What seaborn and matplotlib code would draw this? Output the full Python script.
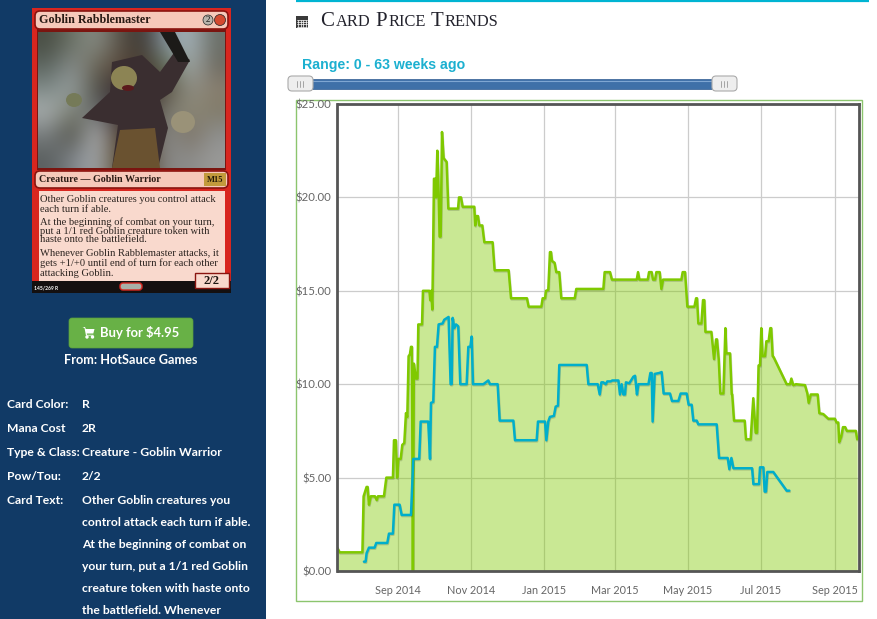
import numpy as np
import pandas as pd
import matplotlib
matplotlib.use("Agg")
import matplotlib.pyplot as plt
import matplotlib.dates as mdates
import matplotlib.patheffects as pe
from matplotlib.patches import Rectangle, FancyBboxPatch, Circle, Ellipse, Polygon
from matplotlib.ticker import FuncFormatter
import seaborn as sns

BASE_DATE = "2014-09-01"
green_days = [-51,-49,-30,-29,-26.5,-25.6,-24.5,-23,-19.5,-18,-17,-12,-10,-4.5,-3.6,-2,-1,0,2,3.3,5,6.4,7.5,8.6,9.7,10.6,11.4,12.2,13,14.7,16,16.7,19.8,20.6,26,26.7,27.5,28.4,29,29.8,31,31.5,32.6,33.4,34.5,35.4,36.5,37.9,40.4,41.8,49.9,50.7,52.4,53.8,63.5,64.3,65.2,66.6,67.7,70.2,71.9,78.8,80.5,92.2,94.2,107.5,108.9,119.5,120.6,122.6,123.4,125.3,126.7,127.6,128.4,130.6,132,134.5,136.2,147.4,148.7,171.3,172.4,176.9,178.5,199.2,200.3,201.4,208.4,209.5,211.7,212.8,214.5,215.6,218.4,219.8,221.2,236.5,237.6,239.6,241.5,247.4,248.8,249.6,250.7,253.2,254.6,255.7,256.6,261.6,263.8,265.5,266.3,267.7,269.1,271.6,273.3,274.1,277.2,278.6,279,280.5,289.4,290.5,294.4,296.6,297.5,298.6,299.7,301,302.2,303.3,304.4,306.4,307.5,309.4,310.8,311.6,312.8,313.6,324.5,327.3,328.4,330,332.3,339.8,341.8,342.9,344.6,350.4,351.8,355.1,359.3,364.8,366.2,367.6,368.4,370.1,371.5,373.4,374.8,382.3,383.4]
green_price = [1.25,1,1,4,4.5,4.5,3.55,4,4,3.8,4,4,5,5,7,7,5,6,6,6.75,6.85,8.45,8.25,11.5,11.6,12,12,0,11.1,10.3,10.3,13.2,13.2,15,15,14.5,15,14,16.8,21,21,20,22.5,21.1,17.9,17.9,23.5,22.1,21.9,19.4,19.4,20,20,19.5,19.5,18.5,19,19,18.5,18.5,17.6,17.6,16.1,16.1,14.6,14.6,14.15,14.15,14.6,14.6,15,15.05,17.07,17.07,16.6,16.5,16,16,14.6,14.6,15.1,15.1,16,16,15.6,15.6,16,15.6,15.6,16,16,15.6,15.6,16,16,15.1,15.6,15.6,16,16,14.15,14.15,14.6,14.6,13.25,13.25,14.5,14.5,12.8,12.8,11.35,12.4,12.4,11.35,9.5,9.5,13,11.65,11.65,9.45,9.45,8.05,8.05,7.05,7.05,9.25,8.4,7.4,7.4,11,11,13,11.5,11.5,12.3,12.3,13,13,11.5,11.45,10,10,10.3,9.95,10,9.95,9.5,9,9.45,9.45,8.45,8.4,8.15,8.15,7.95,7.95,6.9,7.2,7.7,7.7,7.5,7.5,7.05]
blue_days = [-28.7,-27.3,-26.5,-24.5,-19.8,-18.4,-9.2,-7.8,-4.5,-3.3,1.1,2.8,10.6,12.5,17.5,18.7,25,26.5,27.3,29.2,30.6,32.3,33.7,37,38.4,42,43.7,44.6,45.4,46.8,48.2,50.1,51.8,57.1,58.5,60.2,61.3,62.4,71,75.2,76.6,83,84.7,96.1,97.5,115.6,116.7,122.6,123.7,125.3,126.7,130,131.5,133.4,134.5,157.4,158.8,166.6,168.3,169.7,171.3,173.3,174.6,177.5,178.8,183.9,185.2,186.6,188,189.4,190.2,193,196.4,197.8,199.4,200.6,209,210.6,211.7,212.5,214.2,218.1,220,221.7,227,228.7,234,235.9,240.9,242.6,245.1,246.5,249.3,250.7,266,268,275.2,276.6,278.3,280,295.6,296.7,301.4,302.2,305,306.1,307.2,308.3,313.3,324.5,326.7]
blue_price = [0.5,0.5,0.95,1.25,1.25,1.5,1.5,2,2,3.55,3.55,3,3,6,6,8,8,6,9,9.05,12,12,13.2,13.25,13.45,13.6,10,10,13.55,13,13.2,13.1,10,10,12,12,12.55,10,10,10.2,10,10,8.05,8.05,7,7,8,8,7,8,8.25,8.3,8.8,8.85,11.03,11.03,10,10,9.45,10.1,10.1,10,10.15,10.15,10.2,10.2,9.45,10,9.45,9.45,10.1,10.05,10.4,10.45,9.45,10,10,10.6,10.6,8,10.55,10.6,10.65,9.5,9.5,9.1,9.1,9.5,9.5,8.9,8.9,8.05,8.05,7.85,7.85,6.05,6.05,5.45,6.05,5.5,5.5,4.65,4.65,5.55,5.55,4.25,4.25,5.3,5.3,4.3,4.3]
price_ticks = [0, 5, 10, 15, 20, 25]
date_ticks = ["2014-09-01","2014-11-01","2015-01-01","2015-03-01","2015-05-01","2015-07-01","2015-09-01"]
sidebar_rows = [("Card Color:", "R"), ("Mana Cost", "2R"), ("Type & Class:", "Creature - Goblin Warrior"), ("Pow/Tou:", "2/2"), ("Card Text:", "Other Goblin creatures you")]
card_text_rest = ["control attack each turn if able.", "At the beginning of combat on", "your turn, put a 1/1 red Goblin", "creature token with haste onto", "the battlefield. Whenever"]
rules_text = [(199,"Other Goblin creatures you control attack"),(209,"each turn if able."),(222,"At the beginning of combat on your turn,"),(231,"put a 1/1 red Goblin creature token with"),(240,"haste onto the battlefield."),(253,"Whenever Goblin Rabblemaster attacks, it"),(263,"gets +1/+0 until end of turn for each other"),(273,"attacking Goblin.")]
art_colors = [
 ["#4a4f45","#6d7468","#8a8f88","#5a5348","#3a3530","#8a9aa5","#a8b5bb","#6a6f68"],
 ["#5d6660","#8a9090","#6a6555","#5b4a3c","#4a3c30","#5c6a50","#a8b0b0","#6e6a60"],
 ["#7f8a88","#9aa3a3","#505045","#3a2d35","#3b2a30","#58503f","#8f8f85","#8a8070"],
 ["#aab0b0","#7b7f70","#6b6f73","#3a3035","#352a28","#7a7a70","#8e8a78","#807a68"],
 ["#7a7f80","#4a4a40","#b5b8bb","#4a3a2c","#4f3a25","#8a8e90","#7a6f5f","#8e9090"],
 ["#5a5f5f","#80858a","#a5aaae","#5a4a30","#4a3a25","#8a8a88","#8a8a88","#9a9a98"]]

GREEN = "#7fc900"
BLUE = "#00aecb"
SANS = ["Lato", "DejaVu Sans"]
SERIF = ["Liberation Serif", "DejaVu Serif"]

sns.set_theme(style="white")
plt.rcParams["font.family"] = SANS
W, H = 878, 619
fig = plt.figure(figsize=(W/100, H/100), dpi=100, facecolor="white")

# ---------- page furniture in pixel coordinates
ui = fig.add_axes([0, 0, 1, 1], zorder=0)
ui.set_xlim(0, W); ui.set_ylim(H, 0); ui.axis("off")
NAVY = "#113a66"
ui.add_patch(FancyBboxPatch((-30, -30), 296, 700, boxstyle="round,pad=0,rounding_size=16", fc=NAVY, ec="none"))

# card
def rect(x0, y0, x1, y1, fc, ec="none", lw=0, z=1):
    ui.add_patch(Rectangle((x0, y0), x1-x0, y1-y0, fc=fc, ec=ec, lw=lw, zorder=z))
rect(32, 8, 231, 293, "#d8261f", z=1)
rect(37, 29, 226, 170, "#7a1510", z=2)
rgb = np.array([[matplotlib.colors.to_rgb(c) for c in row] for row in art_colors])
ui.imshow(rgb, extent=(38, 225, 168, 32), aspect="auto", interpolation="bicubic", zorder=3)
ui.set_xlim(0, W); ui.set_ylim(H, 0)
# rough figure in the illustration
ui.add_patch(Polygon([(112,62),(142,55),(160,72),(176,50),(190,60),(172,92),(160,100),(168,128),(158,168),(112,168),(118,125),(82,118),(110,92)], fc="#3a2e30", ec="none", zorder=4))
ui.add_patch(Polygon([(120,130),(155,128),(160,168),(112,168)], fc="#6a5230", ec="none", zorder=4))
ui.add_patch(Ellipse((124, 78), 26, 24, fc="#8c8454", ec="none", zorder=5))
ui.add_patch(Ellipse((128, 88), 12, 6, fc="#5a1a1c", ec="none", zorder=6))
ui.add_patch(Ellipse((183, 122), 24, 22, fc="#9a9278", ec="none", zorder=5))
ui.add_patch(Ellipse((74, 100), 16, 14, fc="#757a58", ec="none", zorder=5))
ui.add_patch(Polygon([(160,32),(175,32),(190,62),(178,62)], fc="#1c1a18", ec="none", zorder=4))
def bar(x0, y0, x1, y1, fc):
    ui.add_patch(FancyBboxPatch((x0+3, y0+3), x1-x0-6, y1-y0-6, boxstyle="round,pad=3,rounding_size=5",
                                fc=fc, ec="#8a1510", lw=1.2, zorder=6))
bar(35, 11, 228, 29, "#f6c9ba")
bar(35, 171, 228, 188, "#f6c9ba")
rect(39, 191, 225, 284, "#f9d9cd", z=3)
rect(32, 281, 231, 293, "#141010", z=3)
rect(195, 273, 229, 288, "#f9d9cd", ec="#8a1510", lw=1, z=5)
ui.add_patch(FancyBboxPatch((120, 283), 22, 7, boxstyle="round,pad=0,rounding_size=3", fc="#a8b0a8", ec="#d8261f", lw=1, zorder=5))
ui.add_patch(Circle((208, 20), 5, fc="#b8b4ac", ec="#222", lw=.5, zorder=7))
ui.add_patch(Circle((220, 20), 5.5, fc="#d44a30", ec="#222", lw=.5, zorder=7))
ui.text(208, 20, "2", family=SERIF, fontsize=6.5, ha="center", va="center", color="#111", zorder=8)
rect(204, 173, 226, 186, "#c29a3c", z=7)
ui.text(215, 179.5, "M15", family=SERIF, fontsize=6, weight="bold", ha="center", va="center", color="#221a08", zorder=8)
ui.text(39, 20, "Goblin Rabblemaster", family=SERIF, fontsize=8.75, weight="bold", va="center", color="#2a1a14", zorder=8)
ui.text(39, 179, "Creature — Goblin Warrior", family=SERIF, fontsize=7.2, weight="bold", va="center", color="#2a1a14", zorder=8)
for y, s in rules_text:
    ui.text(40, y, s, family=SERIF, fontsize=7.55, va="center", color="#2c2420", zorder=8)
ui.text(212, 281, "2/2", family=SERIF, fontsize=9, weight="bold", ha="center", va="center", color="#1c1410", zorder=8)
ui.text(34, 288, "145/269 R", fontsize=3.6, color="white", va="center", weight="bold", zorder=8)

# buy button
ui.add_patch(FancyBboxPatch((71, 320), 120, 26, boxstyle="round,pad=2,rounding_size=3", fc="#68b146", ec="#5a9f3c", lw=.5, zorder=2))
ui.add_patch(Polygon([(82.5,327),(85,327),(85.8,329),(94.5,329),(93.3,333.5),(86.8,333.5),(87,334.8),(93.5,334.8),(93.5,335.6),(86,335.6),(84.5,328)], fc="white", ec="none", zorder=3))
ui.add_patch(Circle((87, 337), 1.0, fc="white", zorder=3))
ui.add_patch(Circle((92.5, 337), 1.0, fc="white", zorder=3))
ui.text(140, 332.5, "Buy for $4.95", fontsize=9.4, weight="bold", color="white", ha="center", va="center", zorder=3)
ui.text(131, 359.5, "From: HotSauce Games", fontsize=9.15, weight="bold", color="white", ha="center", va="center")

for i, (lab, val) in enumerate(sidebar_rows):
    y = 404 + 24*i
    ui.text(7, y, lab, fontsize=8.7, weight="bold", color="white", va="center")
    ui.text(82, y, val, fontsize=8.7, weight="bold", color="white", va="center")
for i, s in enumerate(card_text_rest):
    ui.text(82, 522 + 22*i, s, fontsize=8.7, weight="bold", color="white", va="center")

# header
ui.plot([296, 869], [0.8, 0.8], color="#00b4d2", lw=1.6, solid_capstyle="butt")
rect(296.5, 16, 308.5, 28, "#3a3a3a")
for v in np.arange(298.5, 308, 2.4):
    ui.plot([v, v], [19.5, 27], color="white", lw=.5)
for v in np.arange(19.5, 28, 2.4):
    ui.plot([297.5, 307.5], [v, v], color="white", lw=.5)
r = fig.canvas.get_renderer()
cx = 320.5
for s, fs in [("C", 15), ("ARD ", 11.8), ("P", 15), ("RICE ", 11.8), ("T", 15), ("RENDS", 11.8)]:
    t = ui.text(cx, 26, s.replace(" ", ""), family=SERIF, fontsize=fs, color="#22222c", va="baseline")
    w = t.get_window_extent(r).width
    cx += w + (5.5 if s.endswith(" ") else 1.0)

# slider
ui.text(302, 65.5, "Range: 0 - 63 weeks ago", family=["Liberation Sans"], fontsize=10.2, weight="bold", color="#1cb0d0", va="center")
rect(305, 79, 720, 89, "#3f70a8", ec="#2e5a90", lw=.5)
ui.plot([305, 720], [81, 81], color="#7fa6d2", lw=.8)
for x0 in (288, 712):
    ui.add_patch(FancyBboxPatch((x0+3, 79), 19, 9, boxstyle="round,pad=3,rounding_size=4", fc="#eeeeee", ec="#aaaaaa", lw=.8, zorder=3))
    for dx in (9.5, 12.5, 15.5):
        ui.plot([x0+dx, x0+dx], [81, 87], color="#999999", lw=.6, zorder=4)

# outer chart box
rect(296.5, 99.5, 862, 600.5, "none", ec="#8cc56e", lw=1.0, z=1)

# ---------- chart
L, R, T, B = 337.5, 858.5, 104, 571
ax = fig.add_axes([L/W, 1-B/H, (R-L)/W, (B-T)/H], zorder=2)
to_dates = lambda d: pd.Timestamp(BASE_DATE) + pd.to_timedelta(np.array(d, dtype=float), unit="D")
green = pd.DataFrame({"date": to_dates(green_days), "price": green_price})
blue = pd.DataFrame({"date": to_dates(blue_days), "price": blue_price})

ax.fill_between(green["date"], green["price"], 0, color=GREEN, alpha=0.42, lw=0, zorder=2)
shadow = [pe.SimpleLineShadow(offset=(0.4, -0.8), alpha=0.15, shadow_color="black"), pe.Normal()]
sns.lineplot(data=green, x="date", y="price", ax=ax, color=GREEN, lw=1.8, estimator=None, sort=False, zorder=3, path_effects=shadow)
sns.lineplot(data=blue, x="date", y="price", ax=ax, color=BLUE, lw=1.8, estimator=None, sort=False, zorder=4, path_effects=shadow)

ax.set_xlim(pd.Timestamp(BASE_DATE) + pd.Timedelta(days=-50.8), pd.Timestamp(BASE_DATE) + pd.Timedelta(days=384.5))
ax.set_ylim(0, 25)
ax.set_xticks(pd.to_datetime(date_ticks))
ax.xaxis.set_major_formatter(mdates.DateFormatter("%b %Y"))
ax.set_yticks(price_ticks)
ax.yaxis.set_major_formatter(FuncFormatter(lambda v, p: f"${v:.2f}"))
ax.set_xlabel(""); ax.set_ylabel("")
ax.grid(True, color="#cccccc", lw=0.9, zorder=0)
ax.set_axisbelow(True)
ax.tick_params(axis="x", length=0, pad=10, labelsize=7.8, labelcolor="#666666")
ax.tick_params(axis="y", length=0, pad=4.5, labelsize=8.2, labelcolor="#666666")
for s in ax.spines.values():
    s.set_visible(True); s.set_color("#555555"); s.set_linewidth(2.0); s.set_zorder(6)
if ax.get_legend():
    ax.get_legend().remove()

fig.savefig("out.png", dpi=100)
